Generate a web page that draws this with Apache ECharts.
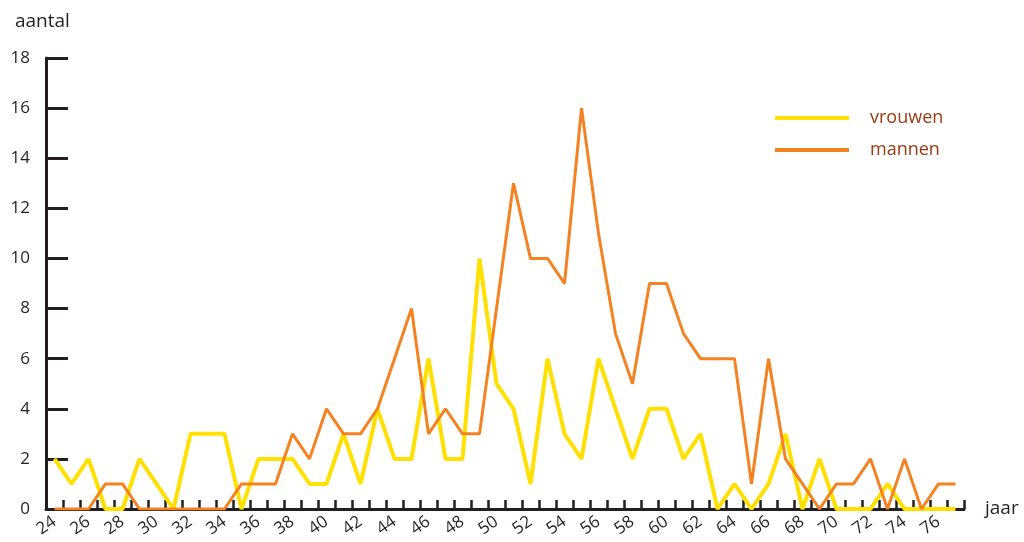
<!DOCTYPE html>
<html>
<head>
<meta charset="utf-8">
<script src="https://cdn.jsdelivr.net/npm/echarts@6/dist/echarts.min.js"></script>
<style>html,body{margin:0;padding:0;background:#fff;}#c{width:1024px;height:542px;}</style>
</head>
<body>
<div id="c"></div>
<script>
const years = [24,25,26,27,28,29,30,31,32,33,34,35,36,37,38,39,40,41,42,43,44,45,46,47,48,49,50,51,52,53,54,55,56,57,58,59,60,61,62,63,64,65,66,67,68,69,70,71,72,73,74,75,76,77];
const vrouwen = [2,1,2,0,0,2,1,0,3,3,3,0,2,2,2,1,1,3,1,4,2,2,6,2,2,10,5,4,1,6,3,2,6,4,2,4,4,2,3,0,1,0,1,3,0,2,0,0,0,1,0,0,0,0];
const mannen  = [0,0,0,1,1,0,0,0,0,0,0,1,1,1,3,2,4,3,3,4,6,8,3,4,3,3,8,13,10,10,9,16,11,7,5,9,9,7,6,6,6,1,6,2,1,0,1,1,2,0,2,0,1,1];
const yTicks = [0,2,4,6,8,10,12,14,16,18];
const seriesNames = ['vrouwen','mannen'];

const font = '"Open Sans", "Noto Sans", sans-serif';
const axisColor = '#231f20';
const chart = echarts.init(document.getElementById('c'), null, {renderer:'canvas'});
chart.setOption({
  animation: false,
  backgroundColor: '#fff',
  title: {
    text: 'aantal', left: 10, top: 7,
    textStyle: {fontFamily: font, fontSize: 19, fontWeight: 'normal', color: axisColor}
  },
  legend: {
    orient: 'vertical', left: 770, top: 104, itemGap: 14,
    icon: 'rect', itemWidth: 74, itemHeight: 4,
    data: seriesNames,
    textStyle: {fontFamily: font, fontSize: 18, color: '#9b3a12', padding: [0,0,0,16]}
  },
  grid: {left: 46, right: 60, top: 58, bottom: 33, containLabel: false},
  xAxis: {
    type: 'category', data: years, boundaryGap: true,
    name: 'jaar', nameLocation: 'end', nameGap: 21,
    nameTextStyle: {fontFamily: font, fontSize: 19, color: axisColor, verticalAlign: 'middle', padding: [0,0,8,0]},
    axisLine: {show: true, lineStyle: {color: axisColor, width: 3}},
    axisTick: {show: true, inside: true, length: 9, interval: 0, lineStyle: {color: axisColor, width: 2.5}},
    axisLabel: {interval: 1, rotate: 35, margin: 11, fontFamily: font, fontSize: 17, color: axisColor},
    splitLine: {show: false}
  },
  yAxis: {
    type: 'value', min: 0, max: 18, interval: 2,
    axisLine: {show: true, lineStyle: {color: axisColor, width: 3}},
    axisTick: {show: true, inside: true, length: 22, lineStyle: {color: axisColor, width: 3}},
    axisLabel: {margin: 16, fontFamily: font, fontSize: 17, color: axisColor,
      formatter: v => yTicks.includes(v) ? String(v) : ''},
    splitLine: {show: false}
  },
  series: [
    {name: seriesNames[0], type: 'line', data: vrouwen, symbol: 'none', color: '#ffe000',
      lineStyle: {color: '#ffe000', width: 4}},
    {name: seriesNames[1], type: 'line', data: mannen, symbol: 'none', color: '#f58220',
      lineStyle: {color: '#f58220', width: 3}}
  ]
});
</script>
</body>
</html>
